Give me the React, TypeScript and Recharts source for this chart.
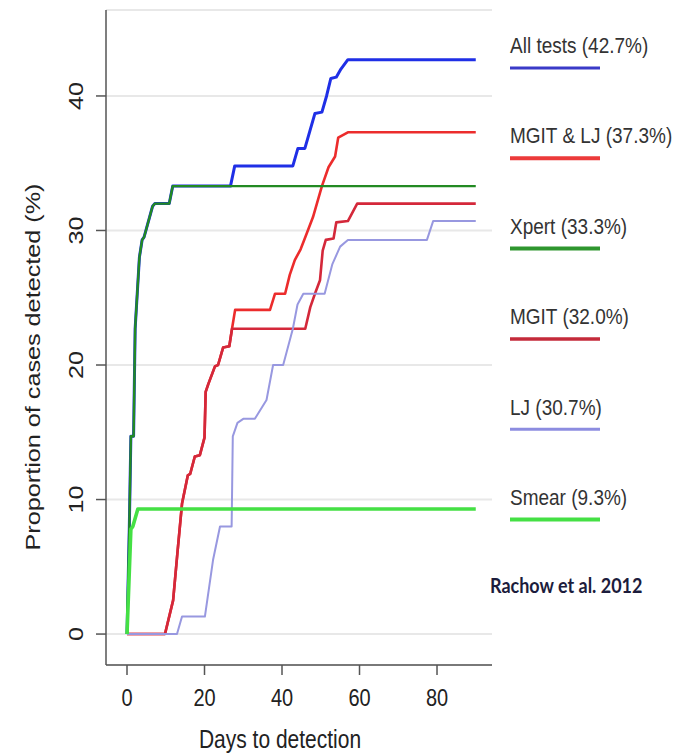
import React from 'react';
import { LineChart, Line, XAxis, YAxis, CartesianGrid, Legend, Label } from 'recharts';

// ---- tick labels ----
const X_TICKS = [0, 20, 40, 60, 80];
const Y_TICKS = [0, 10, 20, 30, 40];

// ---- series values: [day, percent detected] ----
const xpertEarly: [number, number][] = [
  [0, 0], [0.6, 8], [1, 14.7], [1.7, 14.7], [2.1, 22.7], [3.2, 28], [3.9, 29.3],
  [4.4, 29.5], [6.6, 31.8], [7.2, 32], [10.9, 32], [11.8, 33.3],
];
const xpert: [number, number][] = [...xpertEarly, [90, 33.3]];

const allTests: [number, number][] = [
  ...xpertEarly,
  [26.7, 33.3], [27.8, 34.8], [42.8, 34.8], [44.1, 36.1], [45.9, 36.1], [47.2, 37.4],
  [48.5, 38.7], [50.3, 38.8], [51.5, 40], [52.6, 41.3], [54, 41.4], [55.2, 42],
  [57, 42.7], [90, 42.7],
];

const redShared: [number, number][] = [
  [0, 0], [9.8, 0], [11.9, 2.5], [13, 6], [14.2, 9.7], [15.7, 11.8], [16.3, 11.9],
  [17.5, 13.2], [18.8, 13.3], [20, 14.6], [20.3, 18], [21, 18.6], [22.7, 19.9],
  [23.5, 20], [24.8, 21.3], [26.4, 21.4], [27.1, 22.7],
];
const mgitLj: [number, number][] = [
  ...redShared,
  [27.9, 24.1], [36.9, 24.1], [38.2, 25.3], [40.8, 25.3], [42, 26.7], [43.3, 27.8],
  [44.8, 28.6], [46, 29.5], [48, 31], [50.3, 33.3], [52, 34.7], [53.7, 35.5],
  [54.5, 36.9], [57, 37.3], [90, 37.3],
];
const mgit: [number, number][] = [
  ...redShared,
  [46, 22.7], [47.3, 24.3], [48.5, 25.3], [49.8, 26.3], [50.5, 28.5], [51.3, 29.3],
  [53.3, 29.4], [54, 30.6], [57, 30.7], [59.4, 32], [90, 32],
];
const lj: [number, number][] = [
  [0, 0], [12.9, 0], [14.2, 1.3], [20.1, 1.3], [22.2, 5.5], [24, 8], [27, 8],
  [27.3, 14.7], [28.5, 15.7], [30, 16], [33, 16], [36, 17.4], [37.7, 20], [40.3, 20],
  [42.8, 22.7], [44, 24.5], [45.5, 25.3], [51, 25.3], [53, 27.5], [55, 28.8],
  [57, 29.3], [77.4, 29.3], [79, 30.7], [90, 30.7],
];
const smear: [number, number][] = [
  [0, 0], [1, 7.8], [1.5, 8], [2.8, 9.3], [90, 9.3],
];

// ---- legend labels (in legend order) ----
const LEGEND_LABELS = [
  'All tests (42.7%)',
  'MGIT & LJ (37.3%)',
  'Xpert (33.3%)',
  'MGIT (32.0%)',
  'LJ (30.7%)',
  'Smear (9.3%)',
];
const LEGEND_COLORS = ['#3a3ac8', '#ec3a3a', '#2e962e', '#c42a3a', '#8c8ce0', '#44e044'];
const LEGEND_WIDTHS = [3, 4, 4, 3.5, 3, 4];
const SOURCE = 'Rachow et al. 2012';

const toRows = (pts: [number, number][]) => pts.map(([day, value]) => ({ day, value }));

// draw order (first = bottom)
const SERIES = [
  { key: 'all', data: toRows(allTests), color: '#1f2fe6', width: 3 },
  { key: 'mgitlj', data: toRows(mgitLj), color: '#ec2c2c', width: 2.6 },
  { key: 'mgit', data: toRows(mgit), color: '#d4283a', width: 2.6 },
  { key: 'lj', data: toRows(lj), color: '#9898e0', width: 2 },
  { key: 'xpert', data: toRows(xpert), color: '#228a22', width: 2.4 },
  { key: 'smear', data: toRows(smear), color: '#44e044', width: 3.6 },
];

const FONT = '"Liberation Sans", Arial, sans-serif';

const XTick = (props: any) => {
  const { x, y, payload } = props;
  return (
    <text
      transform={`translate(${x},${y + 23}) scale(1,1.2)`}
      textAnchor="middle"
      dominantBaseline="central"
      fontSize={20}
      fontFamily={FONT}
      fill="#222"
    >
      {payload.value}
    </text>
  );
};

const YTick = (props: any) => {
  const { x, y, payload } = props;
  return (
    <text
      transform={`translate(${x - 20},${y}) scale(1,1.2) rotate(-90)`}
      textAnchor="middle"
      dominantBaseline="central"
      fontSize={21}
      fontFamily={FONT}
      fill="#222"
    >
      {payload.value}
    </text>
  );
};

const renderLegend = () => (
  <svg width={197} height={600} style={{ overflow: 'visible' }}>
    {LEGEND_LABELS.map((label, i) => (
      <g key={label}>
        <text
          transform={`translate(30,${25 + i * 90.4}) scale(1,1.15)`}
          dominantBaseline="central"
          fontSize={19}
          fontFamily={FONT}
          fill="#333"
        >
          {label}
        </text>
        <line
          x1={30}
          x2={120}
          y1={48 + i * 90.3}
          y2={48 + i * 90.3}
          stroke={LEGEND_COLORS[i]}
          strokeWidth={LEGEND_WIDTHS[i]}
        />
      </g>
    ))}
    <text
      transform="translate(10,565) scale(1,1.15)"
      dominantBaseline="central"
      fontSize={18}
      fontWeight="bold"
      fontFamily="Lato, 'Open Sans', sans-serif"
      fill="#1c1c3c"
    >
      {SOURCE}
    </text>
  </svg>
);

export default function App() {
  return (
    <div style={{ position: 'absolute', left: 0, top: 0, width: 677, height: 756, background: '#fff' }}>
      <LineChart
        width={677}
        height={756}
        margin={{ top: 10, right: 185, bottom: 51, left: 46 }}
      >
        <CartesianGrid horizontal vertical={false} stroke="#e8e8e8" strokeWidth={2} />
        <XAxis
          type="number"
          dataKey="day"
          domain={[-5.42, 94.19]}
          ticks={X_TICKS}
          allowDataOverflow
          height={40}
          tickSize={10}
          tickMargin={0}
          stroke="#555"
          strokeWidth={1.5}
          tick={<XTick />}
          interval={0}
        >
          <Label
            content={() => (
              <text
                transform="translate(280,748) scale(1,1.2)"
                textAnchor="middle"
                fontSize={21}
                fontFamily={FONT}
                fill="#222"
              >
                Days to detection
              </text>
            )}
          />
        </XAxis>
        <YAxis
          type="number"
          domain={[-2.3, 46.39]}
          ticks={Y_TICKS}
          allowDataOverflow
          width={60}
          tickSize={10}
          tickMargin={0}
          stroke="#555"
          strokeWidth={1.5}
          tick={<YTick />}
          interval={0}
        >
          <Label
            content={() => (
              <text
                transform="translate(33,367) scale(1,1.2) rotate(-90)"
                textAnchor="middle"
                dominantBaseline="central"
                fontSize={21}
                fontFamily={FONT}
                fill="#222"
              >
                Proportion of cases detected (%)
              </text>
            )}
          />
        </YAxis>
        <Legend
          layout="vertical"
          align="center"
          verticalAlign="middle"
          wrapperStyle={{ left: 480, top: 20, width: 197, height: 600 }}
          content={renderLegend}
        />
        {SERIES.map((s) => (
          <Line
            key={s.key}
            data={s.data}
            dataKey="value"
            type="linear"
            stroke={s.color}
            strokeWidth={s.width}
            dot={false}
            activeDot={false}
            isAnimationActive={false}
            strokeLinejoin="round"
          />
        ))}
      </LineChart>
    </div>
  );
}
